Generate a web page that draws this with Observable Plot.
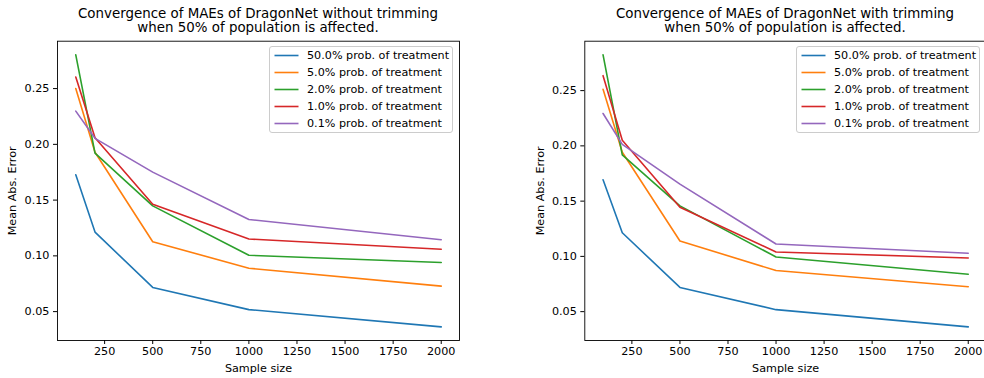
<!DOCTYPE html>
<html>
<head>
<meta charset="utf-8">
<script src="https://cdn.jsdelivr.net/npm/d3@7"></script>
<script src="https://cdn.jsdelivr.net/npm/@observablehq/plot@0.6"></script>
<style>
  html, body { margin: 0; padding: 0; background: #fff; }
  #root { position: relative; width: 984px; height: 378px; overflow: hidden; background: #fff; font-family: "DejaVu Sans", sans-serif; color: #000; }
  .panel { position: absolute; top: 0; }
  .title { position: absolute; text-align: center; font-size: 13.4px; line-height: 14px; white-space: nowrap; transform: translateX(-50%); }
  .legend { position: absolute; background: rgba(255,255,255,0.8); border: 1px solid #cccccc; border-radius: 3px; box-sizing: border-box; padding: 0; font-size: 11.2px; }
  .legend .row { display: flex; align-items: center; height: 17px; white-space: nowrap; }
  .legend svg { display: block; margin-left: 4px; margin-right: 8px; }
</style>
</head>
<body>
<div id="root"></div>
<script>
// ---- data ----
const sampleSizes = [100, 200, 500, 1000, 2000];
const seriesLabels = [
  "50.0% prob. of treatment",
  "5.0% prob. of treatment",
  "2.0% prob. of treatment",
  "1.0% prob. of treatment",
  "0.1% prob. of treatment"
];
const seriesColors = ["#1f77b4", "#ff7f0e", "#2ca02c", "#d62728", "#9467bd"];

// without trimming
const noTrim50 = [0.1727, 0.1213, 0.0717, 0.0518, 0.0363];
const noTrim5  = [0.2500, 0.1929, 0.1127, 0.0889, 0.0729];
const noTrim2  = [0.2803, 0.1921, 0.1448, 0.1005, 0.0940];
const noTrim1  = [0.2604, 0.2060, 0.1463, 0.1151, 0.1059];
const noTrim01 = [0.2298, 0.2054, 0.1751, 0.1326, 0.1145];

// with trimming
const trim50 = [0.1693, 0.1214, 0.0719, 0.0518, 0.0362];
const trim5  = [0.2512, 0.1942, 0.1139, 0.0872, 0.0725];
const trim2  = [0.2824, 0.1918, 0.1457, 0.0995, 0.0839];
const trim1  = [0.2635, 0.2050, 0.1445, 0.1040, 0.0986];
const trim01 = [0.2293, 0.2014, 0.1654, 0.1112, 0.1028];

const xTicks = [250, 500, 750, 1000, 1250, 1500, 1750, 2000];
const yTicks = [0.05, 0.10, 0.15, 0.20, 0.25];

const titlesLine1 = [
  "Convergence of MAEs of DragonNet without trimming",
  "Convergence of MAEs of DragonNet with trimming"
];
const titleLine2 = "when 50% of population is affected.";
const xLabel = "Sample size";
const yLabel = "Mean Abs. Error";

// ---- build ----
function toRows(seriesArrays) {
  const rows = [];
  seriesArrays.forEach((vals, i) => {
    vals.forEach((v, j) => rows.push({series: seriesLabels[i], n: sampleSizes[j], mae: v}));
  });
  return rows;
}
function padDomain(lo, hi) {
  const p = (hi - lo) * 0.05;
  return [lo - p, hi + p];
}

const root = document.getElementById("root");

const panels = [
  {series: [noTrim50, noTrim5, noTrim2, noTrim1, noTrim01], left: 0, width: 492, ml: 57, mr: 33, legendLeft: 269, legendWidth: 184, titleX: 258},
  {series: [trim50, trim5, trim2, trim1, trim01], left: 492, width: 510, ml: 92.3, mr: 16, legendLeft: 796, legendWidth: 184, titleX: 785}
];

panels.forEach((p, k) => {
  const rows = toRows(p.series);
  const xd = padDomain(d3.min(sampleSizes), d3.max(sampleSizes));
  const yd = padDomain(d3.min(rows, d => d.mae), d3.max(rows, d => d.mae));
  const chart = Plot.plot({
    width: p.width,
    height: 378,
    marginLeft: p.ml,
    marginRight: p.mr,
    marginTop: 40.7,
    marginBottom: 38,
    style: {fontFamily: "DejaVu Sans", fontSize: "11.2px", color: "#000", background: "transparent", overflow: "visible"},
    x: {domain: xd},
    y: {domain: yd},
    color: {domain: seriesLabels, range: seriesColors},
    marks: [
      Plot.line(rows, {x: "n", y: "mae", z: "series", stroke: "series", strokeWidth: 1.6}),
      Plot.frame({stroke: "#000", strokeWidth: 0.9}),
      Plot.axisX({ticks: xTicks, tickSize: 4, tickPadding: 3, tickFormat: d => String(d), label: xLabel, labelAnchor: "center", labelArrow: "none", labelOffset: 31}),
      Plot.axisY({ticks: yTicks, tickSize: 4, tickPadding: 4, tickFormat: d3.format(".2f"), label: yLabel, labelAnchor: "center", labelArrow: "none", labelOffset: 49})
    ]
  });
  chart.classList.add("panel");
  chart.style.left = p.left + "px";
  root.appendChild(chart);

  const t = document.createElement("div");
  t.className = "title";
  t.style.left = p.titleX + "px";
  t.style.top = "7px";
  t.innerHTML = titlesLine1[k] + "<br>" + titleLine2;
  root.appendChild(t);

  const lg = document.createElement("div");
  lg.className = "legend";
  lg.style.left = p.legendLeft + "px";
  lg.style.top = "46px";
  lg.style.width = p.legendWidth + "px";
  lg.style.height = "87px";
  seriesLabels.forEach((s, i) => {
    const r = document.createElement("div");
    r.className = "row";
    const sw = d3.create("svg").attr("width", 25).attr("height", 17);
    sw.append("line").attr("x1", 0.5).attr("x2", 24.5).attr("y1", 8.5).attr("y2", 8.5)
      .attr("stroke", seriesColors[i]).attr("stroke-width", 1.6);
    const tx = document.createElement("span");
    tx.textContent = s;
    r.appendChild(sw.node()); r.appendChild(tx);
    lg.appendChild(r);
  });
  root.appendChild(lg);
});
</script>
</body>
</html>
